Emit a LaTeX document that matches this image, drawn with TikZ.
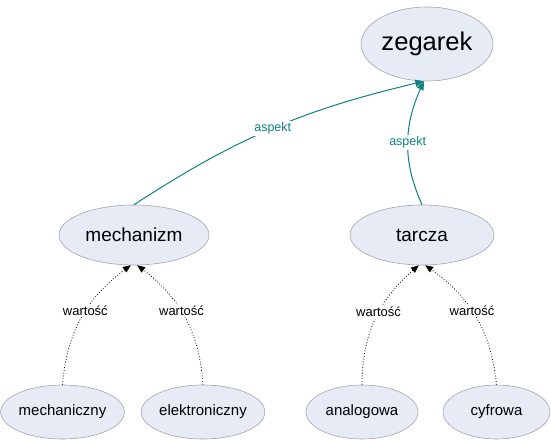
\documentclass[tikz,border=0pt]{standalone}
\usepackage{fontspec}
\setmainfont{Liberation Sans}
\usetikzlibrary{arrows,shapes.geometric}

\definecolor{wypelnienie}{RGB}{230,235,246}
\definecolor{obrys}{RGB}{165,165,170}
\definecolor{morski}{RGB}{16,128,128}

\begin{document}
\begin{tikzpicture}[->,>=triangle 45,x=1pt,y=1pt]

        \tikzstyle{pojecie}=[ellipse,fill=wypelnienie,draw=obrys,line width=0.6pt,text=black,inner sep=0pt]
        \tikzstyle{aspekt}=[draw=morski,line width=1pt]
        \tikzstyle{wartosc}=[draw=black,dotted,line width=0.8pt]
        \tikzstyle{etykieta}=[fill=white,inner sep=1.5pt,font=\fontsize{13}{14}\selectfont]

        \useasboundingbox (0,0) rectangle (551,439);

        \node[pojecie, minimum width=132, minimum height=74, font=\fontsize{25.6}{28}\selectfont] (zegarek) at (427,395) {zegarek};
        \node[pojecie, minimum width=150, minimum height=60, font=\fontsize{19}{22}\selectfont] (mechanizm) at (134,204) {mechanizm};
        \node[pojecie, minimum width=144, minimum height=60, font=\fontsize{19}{22}\selectfont] (tarcza) at (422,204) {tarcza};

        \node[pojecie, minimum width=111, minimum height=54, font=\fontsize{15}{18}\selectfont] (mechaniczny) at (62.5,27) {mechaniczny};
        \node[pojecie, minimum width=111, minimum height=54, font=\fontsize{15}{18}\selectfont] (elektroniczny) at (203,27) {elektroniczny};
        \node[pojecie, minimum width=112, minimum height=54, font=\fontsize{15}{18}\selectfont] (analogowa) at (362,27) {analogowa};
        \node[pojecie, minimum width=107, minimum height=54, font=\fontsize{15}{18}\selectfont] (cyfrowa) at (496.5,27) {cyfrowa};

        \path
        (mechanizm.north) edge [aspekt, bend left=10] node[etykieta, text=morski, font=\fontsize{12.5}{14}\selectfont] {aspekt} ([xshift=-3]zegarek.south)
        (tarcza.north) edge [aspekt, bend left=25] node[etykieta, text=morski, font=\fontsize{12.5}{14}\selectfont] {aspekt} ([xshift=-3]zegarek.south)
        (mechaniczny.north) edge [wartosc, bend left=25] node[etykieta, pos=0.55] {wartość} (mechanizm.264)
        (elektroniczny.north) edge [wartosc, bend right=25] node[etykieta, pos=0.55] {wartość} (mechanizm.276)
        (analogowa.north) edge [wartosc, bend left=25] node[etykieta, pos=0.55] {wartość} (tarcza.264)
        (cyfrowa.north) edge [wartosc, bend right=25] node[etykieta, pos=0.55] {wartość} (tarcza.276)
    ;
    \end{tikzpicture}
\end{document}
